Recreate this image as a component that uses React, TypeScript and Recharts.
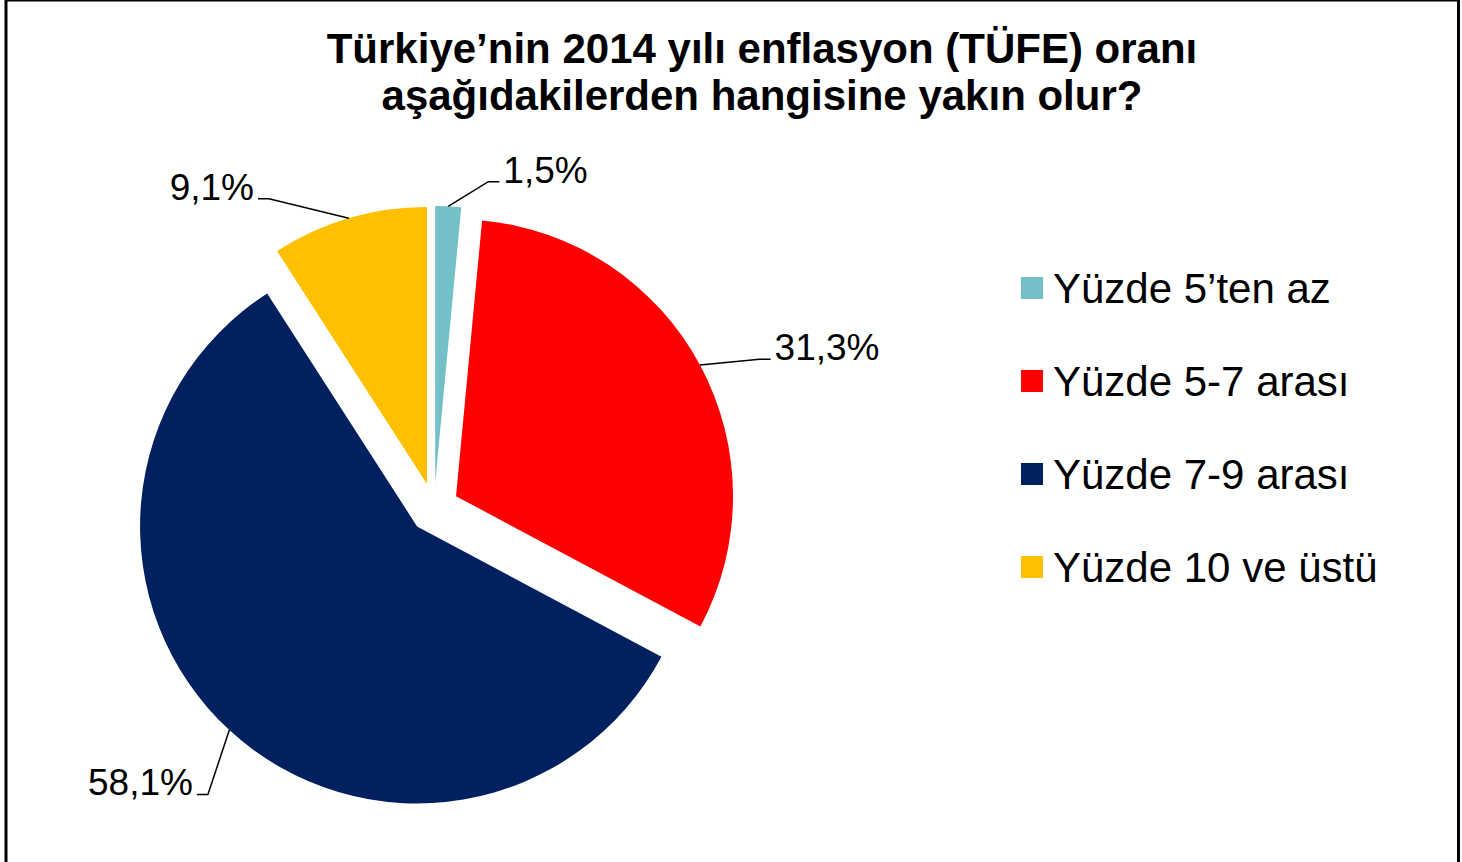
import React from "react";
import { PieChart, Pie, Cell } from "recharts";

const categories = [
  "Yüzde 5’ten az",
  "Yüzde 5-7 arası",
  "Yüzde 7-9 arası",
  "Yüzde 10 ve üstü",
];
const values = [1.5, 31.3, 58.1, 9.1];
const colors = ["#73C0C7", "#FF0000", "#002060", "#FFC000"];
const titleLines = [
  "Türkiye’nin 2014 yılı enflasyon (TÜFE) oranı",
  "aşağıdakilerden hangisine yakın olur?",
];

const data = categories.map((name, i) => ({ name, value: values[i] }));

// layout
const W = 1462;
const H = 862;
const CX = 434;
const CY = 508;
const R = 277;
const EXPLODE = 25;
const FONT = "'Liberation Sans', Arial, sans-serif";
// label leader nudges: [angle deg, extra radius]
const labelNudge = [
  [7.3, 29],
  [4, 56],
  [-4.7, 63],
  [-12.6, 49],
];

const total = values.reduce((a, b) => a + b, 0);
let acc = 0;
const midClock = values.map((v) => {
  const m = ((acc + v / 2) / total) * 360;
  acc += v;
  return m;
});

const rad = (d: number) => (d * Math.PI) / 180;
const fmt = (v: number) => v.toFixed(1).replace(".", ",") + "%";

const makeLabel = (k: number) => (props: any) => {
  if (props.index !== k) return null;
  const { cx, cy, midAngle, outerRadius, value } = props;
  const theta = 90 - midAngle;
  const sx = cx + outerRadius * Math.sin(rad(theta));
  const sy = cy - outerRadius * Math.cos(rad(theta));
  const et = theta + labelNudge[k][0];
  const er = outerRadius + labelNudge[k][1];
  const ex = cx + er * Math.sin(rad(et));
  const ey = cy - er * Math.cos(rad(et));
  const right = Math.sin(rad(et)) > 0;
  const hx = ex + (right ? 11 : -11);
  const tx = hx + (right ? 4 : -4);
  return (
    <g>
      <polyline
        points={`${sx},${sy} ${ex},${ey} ${hx},${ey}`}
        fill="none"
        stroke="#000"
        strokeWidth={1.5}
      />
      <text
        x={tx}
        y={ey + 1}
        textAnchor={right ? "start" : "end"}
        fontSize={37}
        fontFamily={FONT}
        fill="#000"
      >
        {fmt(value)}
      </text>
    </g>
  );
};

export default function App() {
  return (
    <div style={{ position: "absolute", left: 0, top: 0, width: W, height: H, background: "#fff" }}>
      <PieChart width={W} height={H} margin={{ top: 0, right: 0, bottom: 0, left: 0 }}>
        <rect x={6} y={0} width={1452.5} height={900} fill="none" stroke="#000" strokeWidth={3} />
        {titleLines.map((t, i) => (
          <text
            key={t}
            x={762}
            y={63 + i * 47}
            textAnchor="middle"
            fontSize={42}
            fontWeight="bold"
            fontFamily={FONT}
            fill="#000"
          >
            {t}
          </text>
        ))}
        {values.map((_, k) => (
          <Pie
            key={k}
            data={data}
            dataKey="value"
            nameKey="name"
            cx={CX + EXPLODE * Math.sin(rad(midClock[k]))}
            cy={CY - EXPLODE * Math.cos(rad(midClock[k]))}
            innerRadius={0}
            outerRadius={R}
            startAngle={90}
            endAngle={-270}
            stroke="none"
            labelLine={false}
            label={makeLabel(k)}
            isAnimationActive={false}
          >
            {data.map((d, i) => (
              <Cell key={d.name} fill={i === k ? colors[i] : "none"} stroke="none" />
            ))}
          </Pie>
        ))}
        {categories.map((c, i) => (
          <g key={c}>
            <rect x={1021} y={277 + i * 93} width={22} height={22} fill={colors[i]} />
            <text x={1053} y={303 + i * 93} fontSize={42} fontFamily={FONT} fill="#000">
              {c}
            </text>
          </g>
        ))}
      </PieChart>
    </div>
  );
}
